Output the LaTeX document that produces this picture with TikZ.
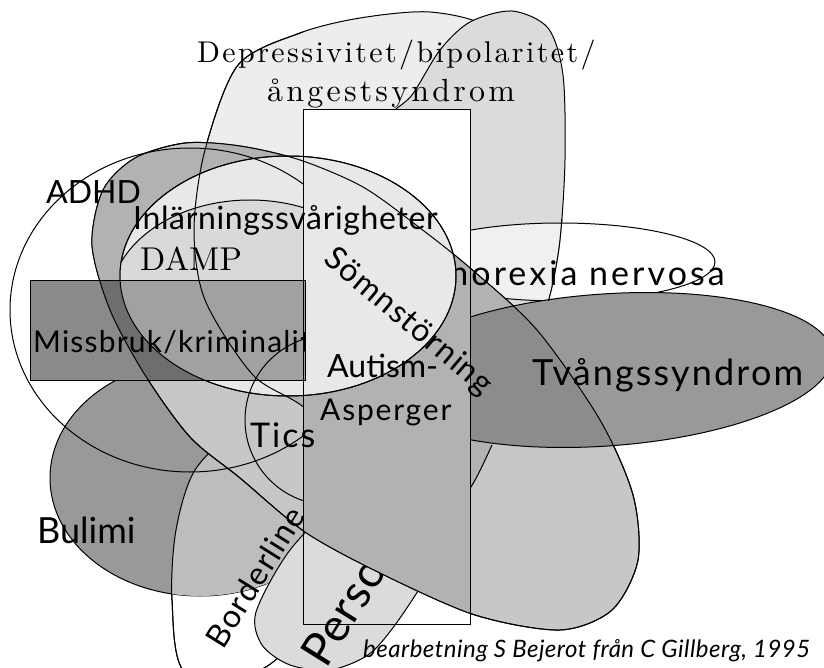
\documentclass[tikz,border=0pt]{standalone}
\usepackage{fontspec}
\setsansfont{Lato}
\newfontfamily\deprfont{lmroman10-regular.otf}

\definecolor{DeprGray}{gray}{0.93}
\definecolor{LobeGray}{gray}{0.86}
\definecolor{SomnGray}{gray}{0.78}
\definecolor{SomnDark}{gray}{0.70}
\definecolor{TvangGray}{gray}{0.60}
\definecolor{TvangDark}{gray}{0.55}
\definecolor{BulimiGray}{gray}{0.60}
\definecolor{BordGray}{gray}{0.74}
\definecolor{PersGray}{gray}{0.86}
\definecolor{InlGray}{gray}{0.91}
\definecolor{DampGray}{gray}{0.85}
\definecolor{MissGray}{gray}{0.54}
\definecolor{MissDark}{gray}{0.43}
\definecolor{MissLight}{gray}{0.63}

% size and letter spacing of a label
\newcommand\lblsize[2]{\fontsize{#1}{#1}\selectfont\addfontfeatures{LetterSpace=#2}}
% outlines of the free-hand shapes (pixel grid, y downwards)
\newcommand\deprpath{plot[smooth cycle] coordinates {(430,12) (490,28) (530,80) (553,150) (557,210) (548,290) (525,370) (493,443) (465,495) (420,525) (365,480) (307,410) (253,375) (205,300) (194,230) (205,150) (238,65) (300,33) (360,18)}}
\newcommand\lobepath{plot[smooth cycle] coordinates {(390,115) (412,95) (440,50) (470,22) (512,11) (548,28) (563,75) (565,160) (560,240) (550,295) (538,322) (490,330) (430,280) (395,200) (385,140)}}
\newcommand\somnpath{plot[smooth cycle] coordinates {(92,245) (103,190) (135,158) (185,143) (240,146) (300,160) (363,187) (420,228) (470,268) (537,330) (600,420) (633,495) (638,560) (612,610) (560,630) (475,615) (380,573) (305,532) (240,478) (190,437) (145,375) (110,310)}}
\newcommand\perspath{plot[smooth cycle] coordinates {(256,612) (262,645) (290,665) (330,670) (368,655) (395,625) (430,572) (462,515) (478,465) (455,440) (405,455) (345,495) (290,550)}}
\newcommand\bordpath{plot[smooth cycle] coordinates {(185,672) (172,600) (176,530) (195,470) (240,430) (300,430) (340,470) (345,540) (310,620) (260,670)}}

\begin{document}
\begin{tikzpicture}[x=1pt,y=-1pt,
    shapeline/.style={draw=black,line width=1pt},
    lbl/.style={font=\sffamily,inner sep=0pt},
    rmlbl/.style={font=\deprfont,inner sep=0pt}]
\useasboundingbox (0,0) rectangle (824,668);
\fill[white] (0,0) rectangle (824,668);

% Depressivitet, lobe, anorexia
\filldraw[shapeline,fill=DeprGray] \deprpath;
\filldraw[shapeline,fill=LobeGray] \lobepath;
\filldraw[shapeline,fill=white,fill opacity=0.6] (560,262) ellipse (155 and 39);

% Borderline and Bulimi
\filldraw[shapeline,fill=white] \bordpath;
\filldraw[shapeline,fill=BulimiGray] (200,478) ellipse (150 and 118);
\begin{scope}
  \clip \bordpath;
  \fill[BordGray] (200,478) ellipse (150 and 118);
\end{scope}
\draw[shapeline] \bordpath;

% the tall box
\fill[white] (303,110) rectangle (470,624);

% Personlighetsstorning
\filldraw[shapeline,fill=PersGray] \perspath;
\begin{scope}
  \clip \perspath;
  \node[lbl,anchor=base west,rotate=58] (pers) at (326,670) {\lblsize{46}{2}Personlighetsstörning};
\end{scope}

% Somnstorning
\filldraw[shapeline,fill=SomnGray] \somnpath;
\begin{scope}
  \clip \somnpath;
  \fill[SomnDark] \deprpath;
  \fill[SomnDark] (303,110) rectangle (470,624);
\end{scope}
\begin{scope}
  \clip \somnpath;
  \clip (190,310) ellipse (180 and 162);
  \fill[SomnDark] (0,0) rectangle (303,280);
\end{scope}

% Tvangssyndrom
\begin{scope}
  \clip (470,0) rectangle (840,680);
  \fill[TvangGray,rotate around={4:(605,370)}] (605,370) ellipse (228 and 76);
  \begin{scope}
    \clip \somnpath;
    \fill[TvangDark,rotate around={4:(605,370)}] (605,370) ellipse (228 and 76);
  \end{scope}
  \draw[shapeline,rotate around={4:(605,370)}] (605,370) ellipse (228 and 76);
\end{scope}

\node[lbl,anchor=base east] (anorexia) at (725,285) {\lblsize{34}{9}Anorexia nervosa};

% Inlarningssvarigheter + DAMP
\filldraw[shapeline,fill=InlGray] (288,276) ellipse (168 and 120);
\begin{scope}
  \clip (288,276) ellipse (168 and 120);
  \clip (0,0) rectangle (303,280);
  \filldraw[shapeline,fill=DampGray] (250,302) ellipse (140 and 102);
\end{scope}

% Missbruk
\fill[MissGray] (30,280) rectangle (305,380);
\begin{scope}
  \clip (30,280) rectangle (305,380);
  \clip \somnpath;
  \fill[MissDark] (30,280) rectangle (305,380);
\end{scope}
\begin{scope}
  \clip (30,280) rectangle (305,380);
  \clip (288,276) ellipse (168 and 120);
  \fill[MissLight] (30,280) rectangle (305,380);
\end{scope}
\begin{scope}
  \clip (30,280) rectangle (305,380);
  \node[lbl,anchor=base west] (missbruk) at (33,352) {\lblsize{30}{4}Missbruk/kriminalitet};
\end{scope}
\draw[shapeline] (30,280) rectangle (305,380);

% lines that run over the fills
\begin{scope}
  \clip (0,0) rectangle (303,668);
  \draw[shapeline] \deprpath;
  \draw[shapeline] (190,310) ellipse (180 and 162);
  \draw[shapeline] (330,420) circle (85);
\end{scope}
\begin{scope}
  \clip (470,445) rectangle (840,680);
  \draw[shapeline] \deprpath;
\end{scope}
\begin{scope}
  \clip (470,220) rectangle (600,300);
  \draw[shapeline] \lobepath;
\end{scope}
\draw[shapeline] \somnpath;
\draw[shapeline] (288,276) ellipse (168 and 120);
\draw[shapeline] (303,110) rectangle (470,624);

% labels
\node[rmlbl,anchor=base west] (depr) at (197,63) {\lblsize{30}{8}Depressivitet/bipolaritet/};
\node[rmlbl,anchor=base west] (angest) at (267,102) {\lblsize{32}{10}ångestsyndrom};
\node[lbl,anchor=base west] (adhd) at (46,204) {\lblsize{32}{0}ADHD};
\node[lbl,anchor=base west] (inl) at (133,230) {\lblsize{32}{2}Inlärningssvårigheter};
\node[rmlbl,anchor=base west] (damp) at (140,270) {\lblsize{33}{0}DAMP};
\node[lbl,rotate=-40] (somn) at (408,322) {\lblsize{32}{4}Sömnstörning};
\node[lbl,anchor=base west] (autism) at (327,377) {\lblsize{32}{0}Autism-};
\node[lbl,anchor=base west] (asperger) at (320,420) {\lblsize{30}{6}Asperger};
\node[lbl,anchor=base west] (tics) at (250,447) {\lblsize{34}{6}Tics};
\node[lbl,anchor=base west] (tvang) at (532,385) {\lblsize{36}{6}Tvångssyndrom};
\node[lbl,anchor=base west] (bulimi) at (37,543) {\lblsize{36}{0}Bulimi};
\node[lbl,rotate=58] (border) at (255,577) {\lblsize{32}{4}Borderline};
\node[lbl,anchor=base west] (credit) at (363,657) {\lblsize{24}{2}\itshape bearbetning S Bejerot från C Gillberg, 1995};
\end{tikzpicture}
\end{document}
